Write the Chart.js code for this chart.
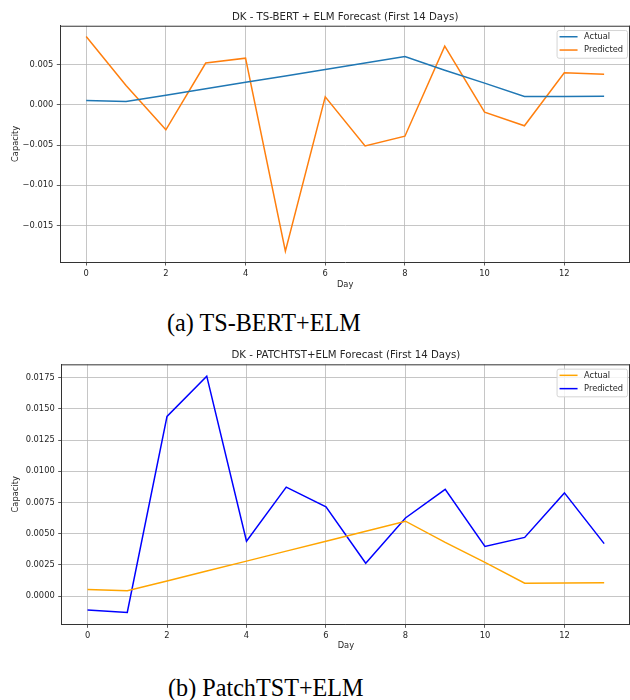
<!DOCTYPE html>
<html>
<head>
<meta charset="utf-8">
<script src="https://cdn.jsdelivr.net/npm/chart.js@4/dist/chart.umd.min.js"></script>
<style>
  body { margin: 0; width: 630px; height: 700px; background: #fff; position: relative; overflow: hidden; }
  .panel { position: absolute; left: 0; width: 630px; }
  .caption {
    position: absolute; font-family: "Liberation Serif", serif; font-size: 26px;
    line-height: 30px; color: #000; white-space: nowrap;
    transform: scaleX(0.93); transform-origin: left top;
  }
</style>
</head>
<body>
<div class="panel" style="top:0;height:296px"><canvas id="tsbert"></canvas></div>
<div class="caption" style="left:167px;top:308px">(a) TS-BERT+ELM</div>
<div class="panel" style="top:330px;height:330px"><canvas id="patchtst"></canvas></div>
<div class="caption" style="left:168px;top:673px">(b) PatchTST+ELM</div>
<script>
const DAYS = [0, 1, 2, 3, 4, 5, 6, 7, 8, 9, 10, 11, 12, 13];
const DAY_TICKS = [0, 2, 4, 6, 8, 10, 12];
const SERIES_LABELS = ['Actual', 'Predicted'];

// same ground truth in both panels
const ACTUAL = [0.00053, 0.00042, 0.0012, 0.0020, 0.0028, 0.0036, 0.0044,
                0.0052, 0.0060, 0.0043, 0.0027, 0.00103, 0.00105, 0.00107];
const TSBERT_PRED = [0.0085, 0.0024, -0.0031, 0.0052, 0.0058, -0.0182, 0.0010,
                     -0.0051, -0.0039, 0.0073, -0.0009, -0.0026, 0.0040, 0.0038];
const PATCHTST_PRED = [-0.00113, -0.00132, 0.0144, 0.01763, 0.0044, 0.00873, 0.00715,
                       0.00263, 0.00626, 0.00855, 0.00398, 0.0047, 0.00827, 0.0042];

const TSBERT_Y_TICKS = [-0.015, -0.010, -0.005, 0.000, 0.005];
const PATCHTST_Y_TICKS = [0, 0.0025, 0.005, 0.0075, 0.01, 0.0125, 0.015, 0.0175];

const TSBERT_COLORS = ['#1f77b4', '#ff7f0e'];
const PATCHTST_COLORS = ['#ffa500', '#0000ff'];

const FONT = { family: '"DejaVu Sans"', size: 8.3 };
const INK = '#262626';

// matplotlib-style autoscale: data range plus 5% each side
function padded(values, frac = 0.05) {
  const lo = Math.min(...values), hi = Math.max(...values);
  const m = (hi - lo) * frac;
  return [lo - m, hi + m];
}

function tickFormatter(decimals) {
  return v => (Math.abs(v) < 1e-12 ? 0 : v).toFixed(decimals).replace('-', '\u2212');
}

const frame = {
  id: 'frame',
  afterDatasetsDraw(chart) {
    const { ctx, chartArea: a } = chart;
    ctx.save();
    ctx.strokeStyle = '#333';
    ctx.lineWidth = 1;
    ctx.beginPath();
    ctx.moveTo(a.left, a.top + 0.5);
    ctx.lineTo(a.right, a.top + 0.5);
    ctx.moveTo(a.right - 0.5, a.top);
    ctx.lineTo(a.right - 0.5, a.bottom);
    ctx.stroke();
    ctx.restore();
  }
};

const boxLegend = {
  id: 'boxLegend',
  afterDraw(chart) {
    const { ctx, chartArea: a } = chart;
    const sets = chart.data.datasets;
    ctx.save();
    ctx.font = '8.3px "DejaVu Sans"';
    const textW = Math.max(...sets.map(d => ctx.measureText(d.label).width));
    const rowH = 13.3;
    const w = 3 + 18 + 6.5 + textW + 4;
    const h = 6.7 + rowH * (sets.length - 1) + 7.7;
    const x = a.right - 3 - w, y = a.top + 4.3;
    ctx.beginPath();
    ctx.roundRect(x + 0.5, y + 0.5, w, h, 2);
    ctx.fillStyle = 'rgba(255,255,255,0.8)';
    ctx.fill();
    ctx.strokeStyle = '#d4d4d4';
    ctx.lineWidth = 1;
    ctx.stroke();
    sets.forEach((d, i) => {
      const cy = y + 6.7 + i * rowH;
      ctx.strokeStyle = d.borderColor;
      ctx.lineWidth = 1.5;
      ctx.beginPath();
      ctx.moveTo(x + 3, cy);
      ctx.lineTo(x + 21, cy);
      ctx.stroke();
      ctx.fillStyle = INK;
      ctx.textBaseline = 'middle';
      ctx.fillText(d.label, x + 27.5, cy);
    });
    ctx.restore();
  }
};

function makeChart(canvas, o) {
  const [xMin, xMax] = padded(DAYS);
  const [yMin, yMax] = padded([...ACTUAL, ...o.predicted]);
  const grid = { color: '#b8b8b8', lineWidth: 0.8, tickLength: 3.5, tickColor: '#333', tickWidth: 0.8 };
  const series = [ACTUAL, o.predicted];
  return new Chart(canvas, {
    type: 'line',
    data: {
      datasets: series.map((vals, i) => ({
        label: SERIES_LABELS[i],
        data: DAYS.map((d, j) => ({ x: d, y: vals[j] })),
        borderColor: o.colors[i],
        backgroundColor: o.colors[i],
        borderWidth: 1.5,
        pointRadius: 0,
        tension: 0,
        fill: false,
      })),
    },
    options: {
      responsive: true,
      maintainAspectRatio: false,
      animation: false,
      layout: { padding: 0 },
      plugins: {
        legend: { display: false },
        tooltip: { enabled: false },
        title: {
          display: true, text: o.title, fullSize: false, color: INK,
          font: { family: '"DejaVu Sans"', size: 10.2, weight: 'normal' },
          padding: o.titlePad,
        },
      },
      scales: {
        x: {
          type: 'linear', min: xMin, max: xMax,
          afterBuildTicks: s => { s.ticks = DAY_TICKS.map(v => ({ value: v })); },
          afterFit: s => { s.height = o.xAxisH; },
          grid,
          border: { color: '#333', width: 1 },
          ticks: { font: FONT, color: INK, padding: 3.5, maxRotation: 0, autoSkip: false, callback: v => String(v) },
          title: { display: true, text: 'Day', font: FONT, color: INK, padding: { top: 0, bottom: o.dayPad } },
        },
        y: {
          min: yMin, max: yMax,
          afterBuildTicks: s => { s.ticks = o.yTicks.map(v => ({ value: v })); },
          afterFit: s => { s.width = o.yAxisW; },
          grid,
          border: { color: '#333', width: 1 },
          ticks: { font: FONT, color: INK, padding: 3.5, autoSkip: false, callback: tickFormatter(o.decimals) },
          title: { display: true, text: 'Capacity', font: FONT, color: INK, padding: { top: 10.5, bottom: 0 } },
        },
      },
    },
    plugins: [frame, boxLegend],
  });
}

makeChart(document.getElementById('tsbert'), {
  title: 'DK - TS-BERT + ELM Forecast (First 14 Days)',
  predicted: TSBERT_PRED, colors: TSBERT_COLORS,
  yTicks: TSBERT_Y_TICKS, decimals: 3,
  titlePad: { top: 11, bottom: 2.5 }, xAxisH: 34, dayPad: 6.0, yAxisW: 60.3,
});

makeChart(document.getElementById('patchtst'), {
  title: 'DK - PATCHTST+ELM Forecast (First 14 Days)',
  predicted: PATCHTST_PRED, colors: PATCHTST_COLORS,
  yTicks: PATCHTST_Y_TICKS, decimals: 4,
  titlePad: { top: 19.3, bottom: 2.8 }, xAxisH: 35.7, dayPad: 9.0, yAxisW: 61.7,
});
</script>
</body>
</html>
